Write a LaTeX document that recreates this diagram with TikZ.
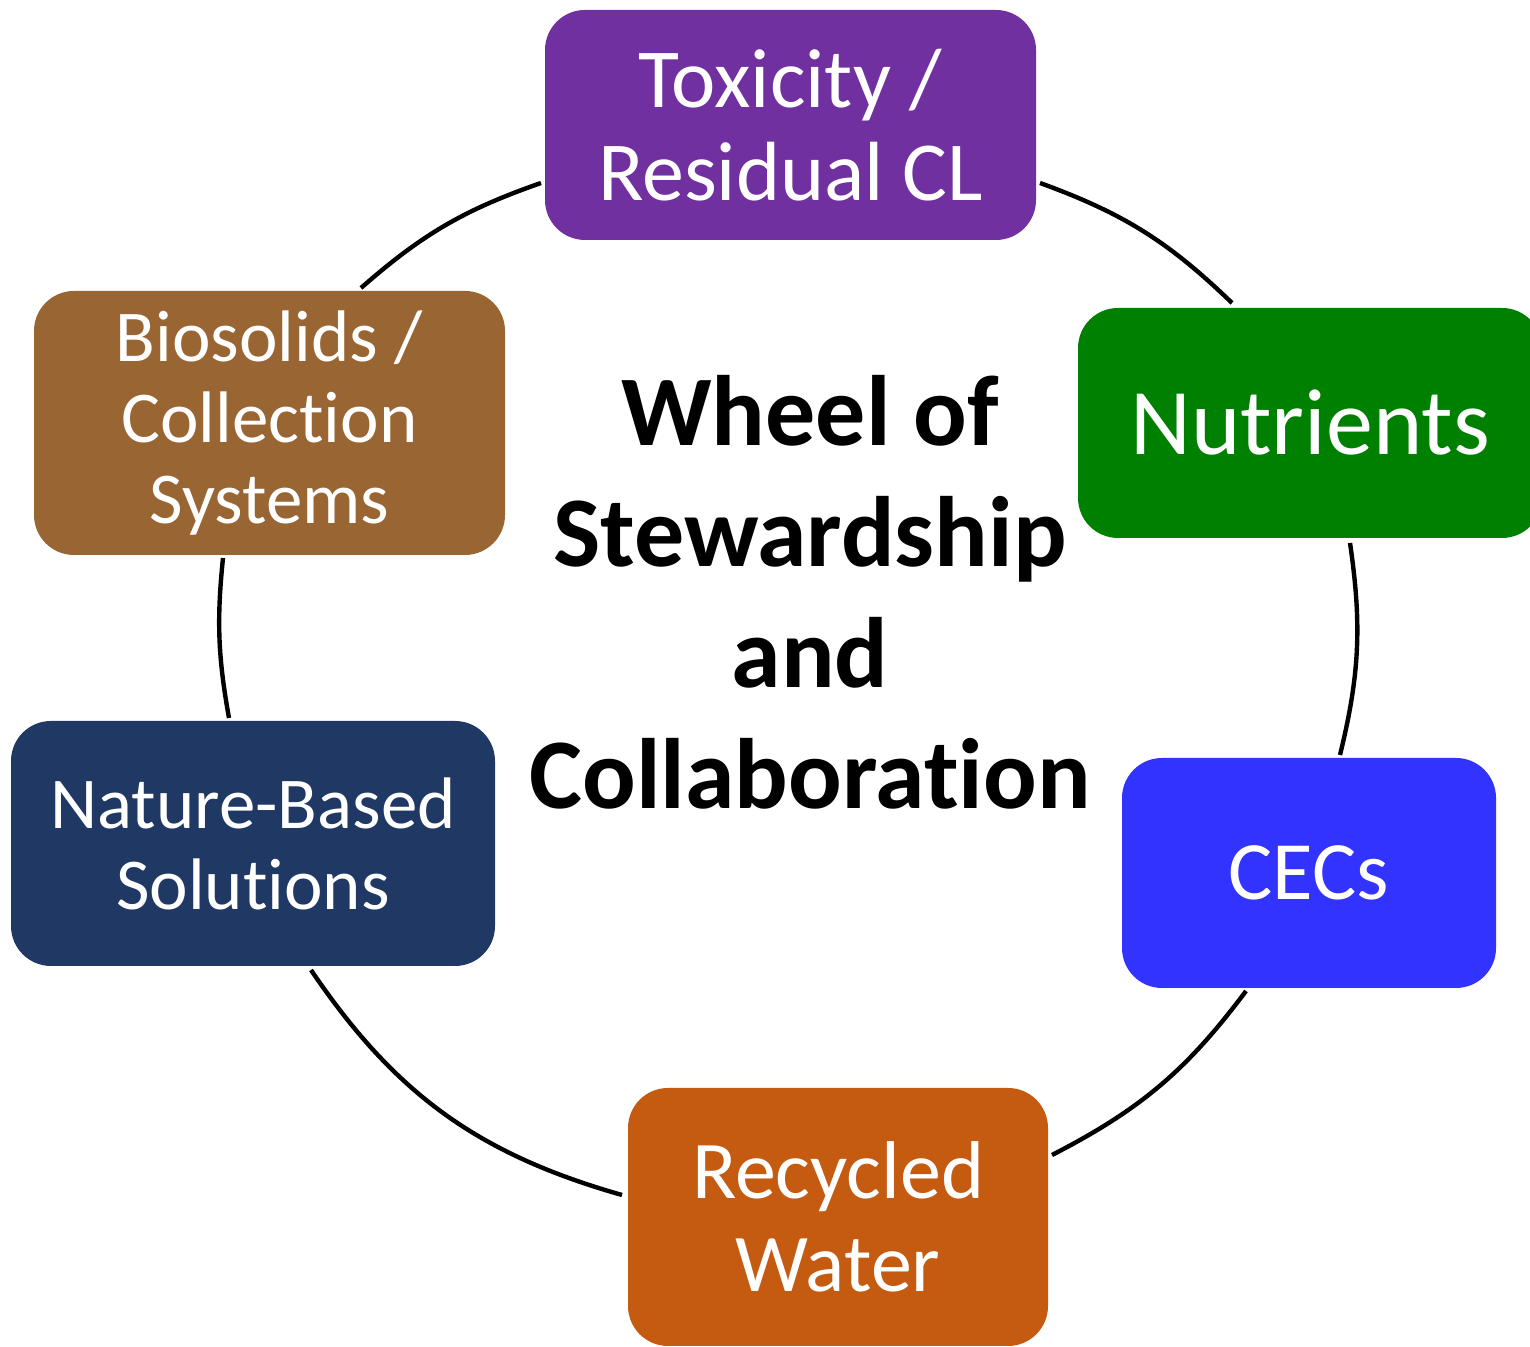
\documentclass[tikz,border=0pt]{standalone}
\usepackage{fontspec}
\setmainfont{Carlito}[Ligatures=NoCommon]
\usetikzlibrary{positioning}
\definecolor{toxpurple}{HTML}{7030A0}
\definecolor{nutgreen}{HTML}{008000}
\definecolor{cecblue}{HTML}{3333FF}
\definecolor{recorange}{HTML}{C55A11}
\definecolor{natnavy}{HTML}{203864}
\definecolor{biobrown}{HTML}{996633}

\begin{document}
\begin{tikzpicture}[x=0.5pt,y=0.5pt,line width=2.2pt,auto]
	\tikzstyle{topic}=[rectangle,rounded corners=20pt,inner sep=0pt,text=white,align=center]
	\useasboundingbox (0,0) rectangle (1530,1347);

	\node[topic,fill=toxpurple,minimum width=245.5pt,minimum height=115pt,font=\fontsize{42}{46.5}\selectfont] (tox) at (790.5,1222) {Toxicity /\\Residual CL};
	\node[topic,fill=nutgreen,minimum width=232pt,minimum height=115pt,font=\fontsize{47}{52}\selectfont]     (nut) at (1310,924)   {Nutrients};
	\node[topic,fill=cecblue,minimum width=187pt,minimum height=115pt,font=\fontsize{41.5}{46}\selectfont]    (cec) at (1309,474)   {CECs};
	\node[topic,fill=recorange,minimum width=210pt,minimum height=129pt,font=\fontsize{41}{46.5}\selectfont]  (rec) at (838,130)    {Recycled\\Water};
	\node[topic,fill=natnavy,minimum width=242pt,minimum height=122.5pt,font=\fontsize{36.5}{40.5}\selectfont] (nat) at (253,503.5) {Nature-Based\\Solutions};
	\node[topic,fill=biobrown,minimum width=235.5pt,minimum height=132pt,font=\fontsize{36.5}{40.5}\selectfont] (bio) at (269.5,924) {Biosolids /\\Collection\\Systems};

	\node[align=center,font=\bfseries\fontsize{50}{60.5}\selectfont] (wheel) at (810,755) {Wheel of\\Stewardship\\and\\Collaboration};

	% ends of the arcs
	\coordinate (tox_r) at (1040,1164);
	\coordinate (nut_t) at (1232,1044);
	\coordinate (nut_b) at (1350,804);
	\coordinate (cec_t) at (1340,592);
	\coordinate (cec_b) at (1246,356);
	\coordinate (rec_r) at (1052,192);
	\coordinate (rec_l) at (622,152);
	\coordinate (nat_b) at (311,377);
	\coordinate (nat_t) at (229,629);
	\coordinate (bio_b) at (223,789);
	\coordinate (bio_t) at (361,1059);
	\coordinate (tox_l) at (541,1164);

	\path (tox_r) edge[bend left=12] (nut_t)
	(nut_b) edge[bend left=11] (cec_t)
	(cec_b) edge[bend left=13] (rec_r)
	(rec_l) edge[bend left=20] (nat_b)
	(nat_t) edge[bend left=8]  (bio_b)
	(bio_t) edge[bend left=11] (tox_l);
\end{tikzpicture}
\end{document}
